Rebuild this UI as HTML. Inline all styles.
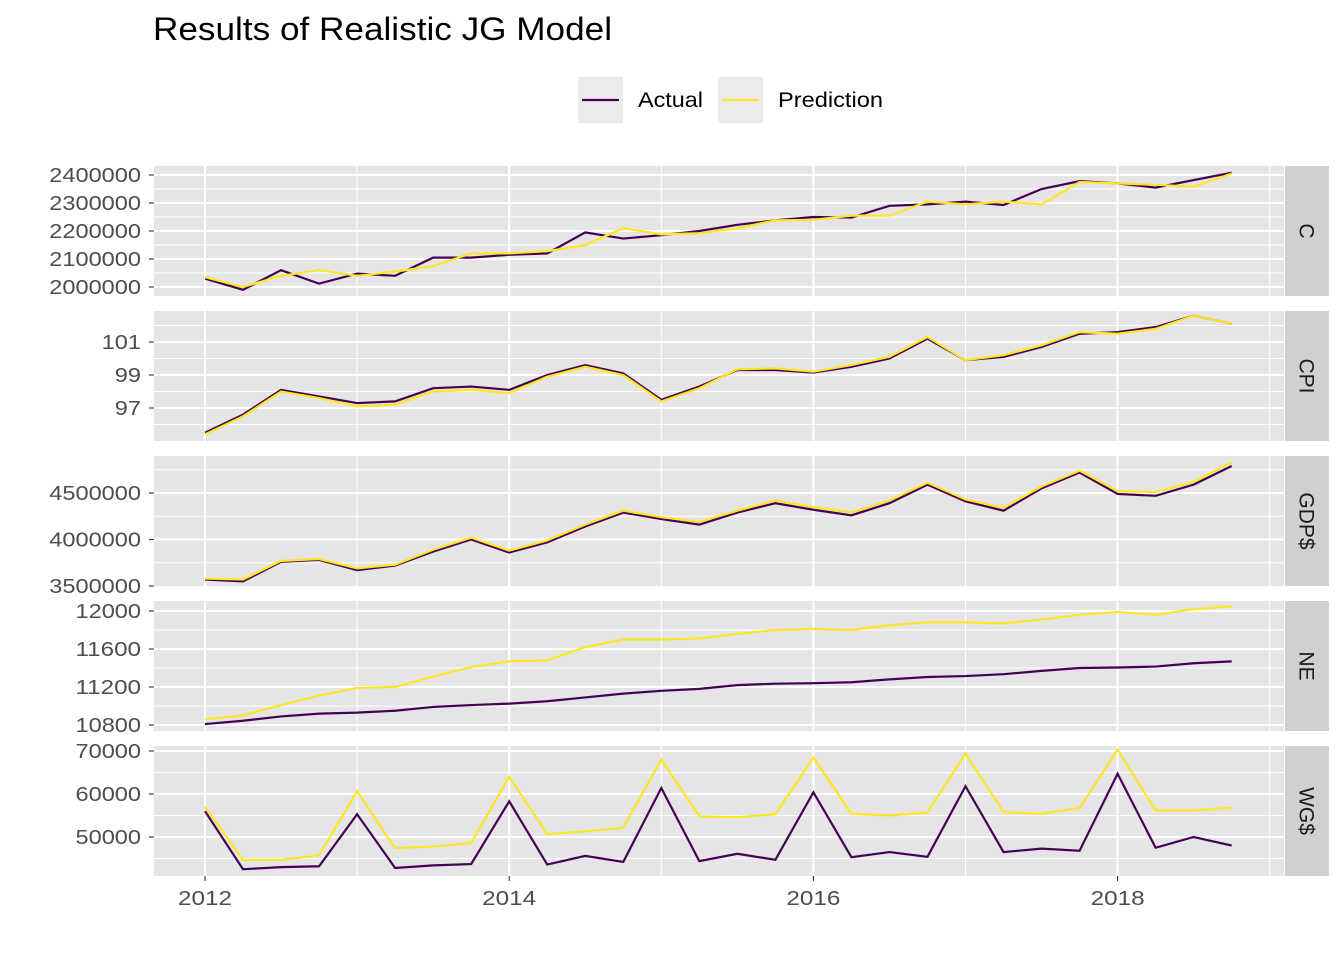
<!DOCTYPE html>
<html><head><meta charset="utf-8"><style>
body{margin:0;background:#fff}
svg text{font-family:"Liberation Sans",Arial,sans-serif}
</style></head><body>
<svg id="chart" width="1344" height="960" xmlns="http://www.w3.org/2000/svg">
<text x="153" y="40" font-size="32" textLength="459" lengthAdjust="spacingAndGlyphs" fill="#000">Results of Realistic JG Model</text>
<g>
<rect x="578" y="77" width="45" height="46" fill="#ebebeb"/>
<line x1="582" y1="100" x2="619" y2="100" stroke="#440154" stroke-width="2.2"/>
<text x="638" y="107" font-size="21" textLength="65" lengthAdjust="spacingAndGlyphs" fill="#000">Actual</text>
<rect x="718" y="77" width="45" height="46" fill="#ebebeb"/>
<line x1="722" y1="100" x2="759" y2="100" stroke="#fde725" stroke-width="2.2"/>
<text x="778" y="107" font-size="21" textLength="105" lengthAdjust="spacingAndGlyphs" fill="#000">Prediction</text>
</g>
<g id="plot"></g>
</svg>
<script>
const quarters = [2012,2012.25,2012.5,2012.75,2013,2013.25,2013.5,2013.75,2014,2014.25,2014.5,2014.75,2015,2015.25,2015.5,2015.75,2016,2016.25,2016.5,2016.75,2017,2017.25,2017.5,2017.75,2018,2018.25,2018.5,2018.75];
const xTicks = [2012,2014,2016,2018];
const facetNames = ["C","CPI","GDP$","NE","WG$"];
const cActual = [2030000,1990000,2060000,2012000,2048000,2040000,2105000,2105000,2115000,2120000,2195000,2173000,2185000,2200000,2222000,2238000,2250000,2248000,2290000,2295000,2305000,2293000,2350000,2378000,2370000,2355000,2382000,2408000];
const cPred = [2035000,2000000,2040000,2060000,2040000,2055000,2075000,2120000,2120000,2128000,2150000,2210000,2188000,2192000,2210000,2238000,2240000,2255000,2255000,2305000,2295000,2305000,2295000,2375000,2370000,2365000,2358000,2405000];
const cpiActual = [95.5,96.6,98.1,97.7,97.3,97.4,98.2,98.3,98.1,99.0,99.6,99.1,97.5,98.3,99.3,99.3,99.15,99.5,100.0,101.2,99.9,100.1,100.7,101.5,101.6,101.9,102.6,102.1];
const cpiPred = [95.4,96.5,98.0,97.6,97.1,97.2,98.0,98.1,97.9,98.9,99.5,99.0,97.4,98.2,99.35,99.4,99.2,99.6,100.1,101.3,99.9,100.2,100.8,101.6,101.5,101.8,102.6,102.1];
const gdpActual = [3570000,3550000,3760000,3780000,3670000,3720000,3870000,4000000,3860000,3970000,4140000,4290000,4220000,4160000,4290000,4390000,4320000,4260000,4390000,4590000,4410000,4310000,4550000,4720000,4490000,4470000,4590000,4790000];
const gdpPred = [3580000,3570000,3770000,3790000,3690000,3730000,3890000,4020000,3880000,3990000,4160000,4310000,4240000,4190000,4310000,4420000,4350000,4290000,4420000,4610000,4430000,4340000,4570000,4740000,4520000,4510000,4620000,4830000];
const neActual = [10810,10845,10890,10920,10930,10950,10990,11010,11025,11050,11090,11130,11160,11180,11220,11235,11240,11250,11280,11305,11315,11335,11370,11400,11405,11415,11450,11470];
const nePred = [10860,10900,11010,11110,11190,11200,11310,11410,11470,11480,11620,11700,11700,11710,11760,11800,11810,11800,11850,11880,11880,11870,11910,11960,11990,11960,12020,12050];
const wgActual = [56000,42500,43000,43200,55300,42800,43400,43700,58300,43600,45600,44200,61400,44400,46100,44700,60400,45300,46500,45400,61800,46500,47300,46800,64700,47500,50000,48000];
const wgPred = [57000,44700,44700,45700,60600,47400,47800,48600,64000,50700,51300,52200,68000,54800,54600,55300,68500,55400,55000,55700,69400,55800,55400,56700,70300,56200,56200,56800];
const cTicks = [2000000,2100000,2200000,2300000,2400000];
const cpiTicks = [97,99,101];
const gdpTicks = [3500000,4000000,4500000];
const neTicks = [10800,11200,11600,12000];
const wgTicks = [50000,60000,70000];

const NS="http://www.w3.org/2000/svg";
const plot=document.getElementById('plot');
function mk(tag,attrs,parent){const e=document.createElementNS(NS,tag);for(const k in attrs)e.setAttribute(k,attrs[k]);(parent||plot).appendChild(e);return e;}
const PX0=154, PX1=1284;
function xs(v){return 205+(v-2012)*152.1;}
const panels=[
 {name:facetNames[0],top:166,bot:296,a:cActual,p:cPred,ticks:cTicks,v0:2000000,y0:287,v1:2400000,y1:175},
 {name:facetNames[1],top:311,bot:441,a:cpiActual,p:cpiPred,ticks:cpiTicks,v0:97,y0:408,v1:101,y1:342},
 {name:facetNames[2],top:456,bot:586,a:gdpActual,p:gdpPred,ticks:gdpTicks,v0:3500000,y0:586,v1:4500000,y1:493},
 {name:facetNames[3],top:601,bot:731,a:neActual,p:nePred,ticks:neTicks,v0:10800,y0:725,v1:12000,y1:611},
 {name:facetNames[4],top:746,bot:876,a:wgActual,p:wgPred,ticks:wgTicks,v0:50000,y0:837,v1:70000,y1:751}
];
panels.forEach((P,i)=>{
 const ys=v=>P.y0+(v-P.v0)*(P.y1-P.y0)/(P.v1-P.v0);
 const g=mk('g',{});
 
 
 const bg=mk('rect',{x:PX0,y:P.top,width:PX1-PX0,height:P.bot-P.top,fill:'#e5e5e5'},g);
 
 
 const step=P.ticks[1]-P.ticks[0];
 for(let k=-4;k<P.ticks.length+3;k++){const y=ys(P.ticks[0]+(k+0.5)*step); if(y>P.top&&y<P.bot) mk('line',{x1:PX0,x2:PX1,y1:y,y2:y,stroke:'#fff','stroke-width':1},g);}
 for(let k=-3;k<P.ticks.length+3;k++){const y=ys(P.ticks[0]+k*step); if(y>P.top&&y<P.bot) mk('line',{x1:PX0,x2:PX1,y1:y,y2:y,stroke:'#fff','stroke-width':2},g);}
 [2013,2015,2017,2019].forEach(v=>mk('line',{x1:xs(v),x2:xs(v),y1:P.top,y2:P.bot,stroke:'#fff','stroke-width':1},g));
 xTicks.forEach(v=>mk('line',{x1:xs(v),x2:xs(v),y1:P.top,y2:P.bot,stroke:'#fff','stroke-width':2},g));
 P.ticks.forEach(v=>{const y=ys(v);
  mk('line',{x1:149,x2:154,y1:y,y2:y,stroke:'#333','stroke-width':1.1},g);
  const s=String(v);
  const t=mk('text',{x:141,y:y+7,'font-size':20,fill:'#4d4d4d','text-anchor':'end',textLength:s.length*13.1,lengthAdjust:'spacingAndGlyphs'},g);t.textContent=s;
  
  
 });
 const pa=mk('polyline',{points:quarters.map((q,j)=>xs(q)+','+ys(P.a[j])).join(' '),fill:'none',stroke:'#440154','stroke-width':2.2},g);
 
 
 const pp=mk('polyline',{points:quarters.map((q,j)=>xs(q)+','+ys(P.p[j])).join(' '),fill:'none',stroke:'#fde725','stroke-width':2.2},g);
 
 
 const sr=mk('rect',{x:1285,y:P.top,width:44,height:P.bot-P.top,fill:'#d0d0d0'},g);
 
 
 const cy=(P.top+P.bot)/2;
 const st=mk('text',{x:1306,y:cy,'font-size':21,fill:'#1a1a1a','text-anchor':'middle','dominant-baseline':'central',transform:`rotate(90 1306 ${cy})`},g);
 st.textContent=P.name;
 
 
});
xTicks.forEach(v=>{
 mk('line',{x1:xs(v),x2:xs(v),y1:876,y2:881,stroke:'#333','stroke-width':1.1});
 const t=mk('text',{x:xs(v),y:905,'font-size':20,fill:'#4d4d4d','text-anchor':'middle',textLength:54,lengthAdjust:'spacingAndGlyphs'});t.textContent=v;
 
 
});
</script>
</body></html>
